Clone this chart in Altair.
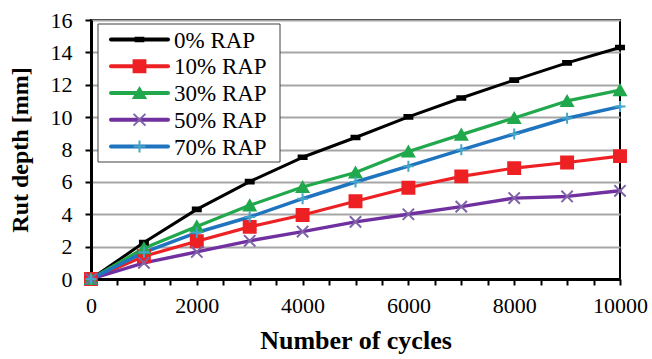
import altair as alt
import pandas as pd

cycles = [0, 1000, 2000, 3000, 4000, 5000, 6000, 7000, 8000, 9000, 10000]
series_names = ["0% RAP", "10% RAP", "30% RAP", "50% RAP", "70% RAP"]
rap0 = [0, 2.25, 4.30, 6.02, 7.52, 8.74, 10.02, 11.18, 12.29, 13.35, 14.30]
rap10 = [0, 1.40, 2.33, 3.22, 3.95, 4.80, 5.64, 6.34, 6.85, 7.20, 7.59]
rap30 = [0, 1.90, 3.25, 4.55, 5.68, 6.58, 7.88, 8.92, 9.95, 11.00, 11.67]
rap50 = [0, 1.00, 1.67, 2.36, 2.93, 3.53, 4.00, 4.47, 5.00, 5.10, 5.45]
rap70 = [0, 1.65, 2.87, 3.83, 4.96, 5.99, 6.97, 7.98, 8.96, 9.93, 10.65]

values = [rap0, rap10, rap30, rap50, rap70]
rows = []
for name, vals in zip(series_names, values):
    for c, v in zip(cycles, vals):
        rows.append({"Cycles": c, "Depth": v, "Series": name})
df = pd.DataFrame(rows)
legend_df = pd.DataFrame({"Series": series_names})

line_colors = ["#000000", "#ED2024", "#21A84C", "#7030A0", "#1F74C0"]
marker_colors = ["#000000", "#ED2024", "#21A84C", "#7F63A9", "#45A5C8"]
line_widths = [3, 3.5, 3.5, 4.5, 3.5]
marker_shapes = [
    "M-0.65,-0.3H0.65V0.3H-0.65Z",
    "M-1,-1H1V1H-1Z",
    "M0,-0.866L1,0.866H-1Z",
    "M-1,-1L1,1M-1,1L1,-1",
    "M-1,0H1M0,-1V1",
]
marker_sizes = [150, 121, 156, 156, 272]

FONT = "Liberation Serif"

color_scale = alt.Scale(domain=series_names, range=line_colors)
width_scale = alt.Scale(domain=series_names, range=line_widths)
mcolor_scale = alt.Scale(domain=series_names, range=marker_colors)
shape_scale = alt.Scale(domain=series_names, range=marker_shapes)
size_scale = alt.Scale(domain=series_names, range=marker_sizes)

x_enc = alt.X(
    "Cycles:Q",
    scale=alt.Scale(domain=[0, 10000], nice=False),
    axis=alt.Axis(
        tickCount=20, format="d", labelOverlap=False, labelFlush=False,
        ticks=True, tickOpacity=1,
        labelExpr="datum.value % 2000 === 0 ? datum.label : ''",
        title="Number of cycles", grid=False,
        labelFont=FONT, labelFontSize=22, labelColor="black", labelPadding=10,
        tickSize=6, tickWidth=2, tickColor="black",
        domainColor="black", domainWidth=3,
        titleFont=FONT, titleFontSize=26, titleFontWeight="bold", titleColor="black",
        titlePadding=11,
    ),
)
y_enc = alt.Y(
    "Depth:Q",
    scale=alt.Scale(domain=[0, 16], nice=False),
    axis=alt.Axis(
        tickCount=8, title="Rut depth [mm]", grid=True, labelOverlap=False, labelFlush=False,
        ticks=True, tickOpacity=1, gridColor="#A6A6A6", gridWidth=2,
        labelFont=FONT, labelFontSize=22, labelColor="black", labelPadding=13,
        tickSize=6, tickWidth=2, tickColor="black",
        domainColor="black", domainWidth=3,
        titleFont=FONT, titleFontSize=24, titleFontWeight="bold", titleColor="black",
        titlePadding=18,
    ),
)

lines = alt.Chart(df).mark_line(strokeJoin="round", strokeCap="round").encode(
    x=x_enc,
    y=y_enc,
    color=alt.Color("Series:N", scale=color_scale, legend=None),
    strokeWidth=alt.StrokeWidth("Series:N", scale=width_scale, legend=None),
)

points = alt.Chart(df).mark_point(opacity=1, strokeWidth=2).encode(
    x=x_enc,
    y=y_enc,
    shape=alt.Shape("Series:N", scale=shape_scale, legend=None),
    fill=alt.Fill("Series:N", scale=mcolor_scale, legend=None),
    stroke=alt.Stroke("Series:N", scale=mcolor_scale, legend=None),
    size=alt.Size("Series:N", scale=size_scale, legend=None),
)

# ---- legend (drawn from the same colour / shape scales) ----
leg_y = alt.Y("Series:N", axis=None,
              scale=alt.Scale(type="point", domain=series_names, range=[19.5, 126.5], padding=0))
leg_base = alt.Chart(legend_df)

leg_box = leg_base.mark_rect(fill="white", stroke="#404040", strokeWidth=1).encode(
    x=alt.value(7), x2=alt.value(189), y=alt.value(4), y2=alt.value(142)
).transform_filter(alt.datum.Series == series_names[0])

leg_lines = leg_base.mark_rule(strokeCap="round").encode(
    x=alt.value(20), x2=alt.value(77), y=leg_y,
    color=alt.Color("Series:N", scale=color_scale, legend=None),
    strokeWidth=alt.value(4),
)
leg_marks = leg_base.mark_point(opacity=1, strokeWidth=2).encode(
    x=alt.value(48.5), y=leg_y,
    shape=alt.Shape("Series:N", scale=shape_scale, legend=None),
    fill=alt.Fill("Series:N", scale=mcolor_scale, legend=None),
    stroke=alt.Stroke("Series:N", scale=mcolor_scale, legend=None),
    size=alt.value(140),
)
leg_text = leg_base.mark_text(align="left", baseline="middle", font=FONT, fontSize=23,
                              color="black", dy=1).encode(
    x=alt.value(83), y=leg_y, text="Series:N",
)
legend_layer = alt.layer(leg_box, leg_lines, leg_marks, leg_text)

chart = alt.layer(alt.layer(lines, points), legend_layer).resolve_scale(
    y="independent"
).properties(
    width=529, height=259,
    autosize=alt.AutoSizeParams(type="none"),
    padding={"left": 91, "top": 20, "right": 32, "bottom": 80},
    background="white",
).configure_view(
    stroke="black", strokeWidth=2
).configure_axis(
    ticks=True, tickColor="black", tickSize=6, tickWidth=2, tickOpacity=1
)

chart.save("out.html", embed_options={"renderer": "svg", "actions": False})
